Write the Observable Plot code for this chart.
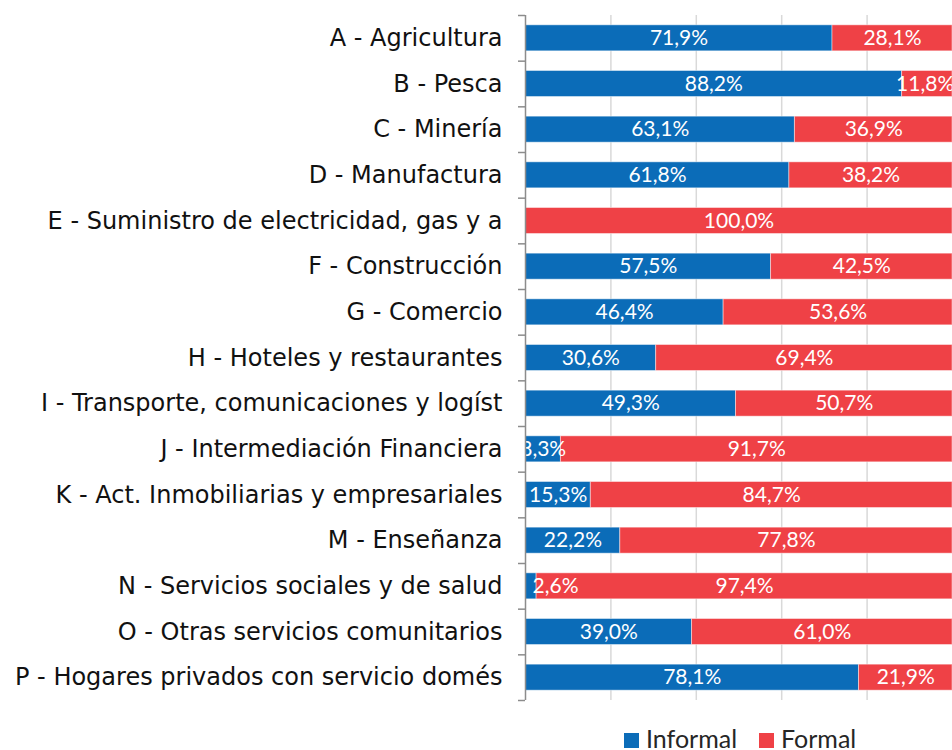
<!DOCTYPE html>
<html><head><meta charset="utf-8">
<script src="https://cdn.jsdelivr.net/npm/d3@7"></script>
<script src="https://cdn.jsdelivr.net/npm/@observablehq/plot@0.6"></script>
<style>
body{margin:0;background:#fff;width:952px;height:750px;overflow:hidden;position:relative}
#legend{position:absolute;left:0;top:716px;width:952px;height:34px;font-family:Lato,"Open Sans",sans-serif;font-size:25px;color:#262626}
#legend .it{position:absolute;top:5px;display:flex;align-items:center;height:34px}
#legend .sw{width:15px;height:15px;display:inline-block;margin-right:7px;margin-top:4px}
</style>
</head><body>
<div id="chart"></div>
<div id="legend"></div>
<script>
const categories = [
  "A - Agricultura",
  "B - Pesca",
  "C - Minería",
  "D - Manufactura",
  "E - Suministro de electricidad, gas y a",
  "F - Construcción",
  "G - Comercio",
  "H - Hoteles y restaurantes",
  "I - Transporte, comunicaciones y logíst",
  "J - Intermediación Financiera",
  "K - Act. Inmobiliarias y empresariales",
  "M - Enseñanza",
  "N - Servicios sociales y de salud",
  "O - Otras servicios comunitarios",
  "P - Hogares privados con servicio domés"
];
const informal = [71.9, 88.2, 63.1, 61.8, 0, 57.5, 46.4, 30.6, 49.3, 8.3, 15.3, 22.2, 2.6, 39.0, 78.1];
const formal   = [28.1, 11.8, 36.9, 38.2, 100, 42.5, 53.6, 69.4, 50.7, 91.7, 84.7, 77.8, 97.4, 61.0, 21.9];
const seriesNames = ["Informal", "Formal"];
const seriesColors = ["#0B6CB8", "#EF4146"];
const gridTicks = [0.2, 0.4, 0.6, 0.8];

const data = [];
const labels = [];
categories.forEach((c, i) => {
  const vals = [informal[i], formal[i]];
  let start = 0;
  vals.forEach((v, j) => {
    data.push({cat: c, s: seriesNames[j], v: v / 100});
    if (v > 0) labels.push({cat: c, s: seriesNames[j], v: v / 100, start, small: v < 5});
    start += v / 100;
  });
});
const fmt = d => (d.v * 100).toFixed(1).replace(".", ",") + "%";

const marginTop = 15, marginBottom = 16, H = 716;
const step = (H - marginTop - marginBottom) / categories.length;
const barH = 26;
const inset = (step - barH) / 2;

const chart = Plot.plot({
  width: 952,
  height: H,
  marginLeft: 525,
  marginRight: 0,
  marginTop,
  marginBottom,
  style: {fontFamily: "DejaVu Sans, Verdana, sans-serif", fontSize: "24px", color: "#111", background: "#fff"},
  x: {domain: [0, 1], axis: null},
  y: {domain: categories, padding: 0, round: false, label: null},
  color: {domain: seriesNames, range: seriesColors},
  marks: [
    Plot.gridX(gridTicks, {stroke: "#d9d9d9", strokeOpacity: 1, strokeWidth: 1.5}),
    Plot.barX(data, Plot.stackX({x: "v", y: "cat", fill: "s", insetTop: inset, insetBottom: inset, stroke: "#fff", strokeOpacity: 0.45, strokeWidth: 1})),
    Plot.text(labels.filter(d => !d.small), {x: d => Math.min(d.start + d.v / 2, 0.936), y: "cat", text: fmt, fill: "#fff", fontFamily: "Lato, 'Open Sans', sans-serif", fontSize: 21, clip: true}),
    Plot.text(labels.filter(d => d.small), {x: "start", y: "cat", text: fmt, fill: "#fff", fontFamily: "Lato, 'Open Sans', sans-serif", fontSize: 21, textAnchor: "start", dx: 7, clip: true}),
    Plot.ruleX([0], {stroke: "#8c8c8c", strokeWidth: 1.5}),
    Plot.axisY({tickSize: 0, tickPadding: 23, fontSize: 24, label: null}),
    Plot.axisY({tickSize: 7, text: null, dy: -step / 2, stroke: "#8c8c8c", strokeWidth: 1.5, label: null}),
    Plot.axisY([categories[categories.length - 1]], {tickSize: 7, text: null, dy: step / 2, stroke: "#8c8c8c", strokeWidth: 1.5, label: null})
  ]
});
document.getElementById("chart").appendChild(chart);

const legend = document.getElementById("legend");
const lx = [624, 759];
seriesNames.forEach((n, i) => {
  const it = document.createElement("div");
  it.className = "it";
  it.style.left = lx[i] + "px";
  it.innerHTML = `<span class="sw" style="background:${seriesColors[i]}"></span><span>${n}</span>`;
  legend.appendChild(it);
});
</script>
</body></html>
